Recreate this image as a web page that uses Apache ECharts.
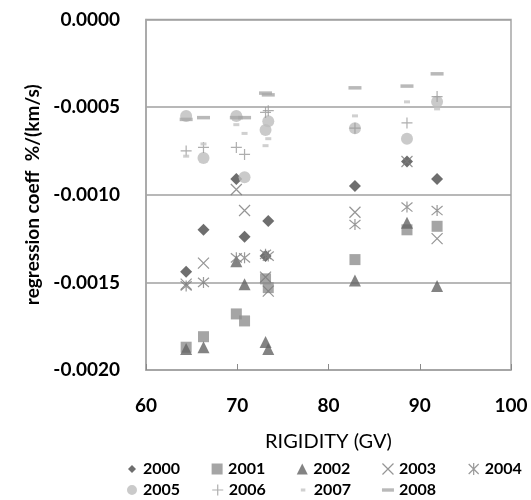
<!DOCTYPE html>
<html>
<head>
<meta charset="utf-8">
<script src="https://cdn.jsdelivr.net/npm/echarts@6/dist/echarts.min.js"></script>
<style>
html,body{margin:0;padding:0;background:#fff;}
#chart{width:531px;height:500px;}
</style>
</head>
<body>
<div id="chart"></div>
<script>
// Rigidity (GV) of each station
var rigidity = [64.4, 66.3, 69.9, 70.8, 73.1, 73.4, 82.9, 88.6, 91.9];
var years = ['2000','2001','2002','2003','2004','2005','2006','2007','2008'];
// regression coefficients per year, %/(km/s)
var y2000 = [-0.00144, -0.00120, -0.00091, -0.00124, -0.00135, -0.00115, -0.00095, -0.00081, -0.00091];
var y2001 = [-0.00187, -0.00181, -0.00168, -0.00172, -0.00148, -0.00153, -0.00137, -0.00120, -0.00118];
var y2002 = [-0.00188, -0.00187, -0.00138, -0.00151, -0.00184, -0.00188, -0.00149, -0.00116, -0.00152];
var y2003 = [-0.00151, -0.00139, -0.00097, -0.00109, -0.00147, -0.00155, -0.00110, -0.00081, -0.00125];
var y2004 = [-0.00152, -0.00150, -0.00136, -0.00136, -0.00134, -0.00135, -0.00117, -0.00107, -0.00109];
var y2005 = [-0.00055, -0.00079, -0.00055, -0.00090, -0.00063, -0.00058, -0.00062, -0.00068, -0.00047];
var y2006 = [-0.00075, -0.00073, -0.00073, -0.00077, -0.00053, -0.00052, -0.00062, -0.00059, -0.00044];
var y2007 = [-0.00078, -0.00071, -0.00060, -0.00065, -0.00072, -0.00068, -0.00055, -0.00047, -0.00051];
var y2008 = [-0.00057, -0.00056, -0.00056, -0.00056, -0.00042, -0.00043, -0.00039, -0.00038, -0.00031];
var xTicks = [60, 70, 80, 90, 100];
var yTicks = [-0.0020, -0.0015, -0.0010, -0.0005, 0.0000];

var values = [y2000, y2001, y2002, y2003, y2004, y2005, y2006, y2007, y2008];

var FONT = 'Lato';
var X_PATH = 'path://M0,0L10,10M10,0L0,10';
var AST_PATH = 'path://M0,0L10,10M10,0L0,10M5,-1L5,11';
var PLUS_PATH = 'path://M5,0L5,10M0,5L10,5';

var styles = [
  {symbol:'diamond', size:12, item:{color:'#4a4a4a'}},
  {symbol:'rect', size:11, item:{color:'#8f8f8f'}},
  {symbol:'triangle', size:12, item:{color:'#646464'}},
  {symbol:X_PATH, size:11, item:{color:'transparent', borderColor:'#7a7a7a', borderWidth:1.2}},
  {symbol:AST_PATH, size:11, item:{color:'transparent', borderColor:'#7f7f7f', borderWidth:1.2}},
  {symbol:'circle', size:12, item:{color:'#bdbdbd'}},
  {symbol:PLUS_PATH, size:11, item:{color:'transparent', borderColor:'#9a9a9a', borderWidth:1.2}},
  {symbol:'rect', size:[6,3], item:{color:'#c4c4c4'}},
  {symbol:'rect', size:[13,3.5], item:{color:'#a8a8a8'}}
];

var legendIcons = [
  {icon:'path://M0,0M12,12M6,2L10,6L6,10L2,6Z', itemStyle:{color:'#4a4a4a'}},
  {icon:'path://M0,0M12,12M0.5,0.5H11.5V11.5H0.5Z', itemStyle:{color:'#8f8f8f'}},
  {icon:'path://M0,0M12,12M6,0.5L11.5,11.5H0.5Z', itemStyle:{color:'#646464'}},
  {icon:'path://M0,0M12,12M0.5,0.5L11.5,11.5M11.5,0.5L0.5,11.5', itemStyle:{color:'transparent', borderColor:'#7a7a7a', borderWidth:1.2}},
  {icon:'path://M0,0M12,12M1,1L11,11M11,1L1,11M6,0L6,12', itemStyle:{color:'transparent', borderColor:'#7f7f7f', borderWidth:1.2}},
  {icon:'path://M0,0M12,12M6,1A5,5,0,1,1,5.99,1Z', itemStyle:{color:'#bdbdbd'}},
  {icon:'path://M0,0M12,12M6,0.5L6,11.5M0.5,6L11.5,6', itemStyle:{color:'transparent', borderColor:'#9a9a9a', borderWidth:1.2}},
  {icon:'path://M0,0M12,12M4,4.5H8.5V7.5H4Z', itemStyle:{color:'#c4c4c4'}},
  {icon:'path://M0,0M12,12M0,4.3H12V7.7H0Z', itemStyle:{color:'#a8a8a8'}}
];

var series = years.map(function(y, i){
  return {
    name: y,
    type: 'scatter',
    symbol: styles[i].symbol,
    symbolSize: styles[i].size,
    itemStyle: styles[i].item,
    data: rigidity.map(function(r, j){ return [r, values[i][j]]; }),
    silent: true
  };
});

function legendData(idx){
  return idx.map(function(i){
    return {name: years[i], icon: legendIcons[i].icon, itemStyle: legendIcons[i].itemStyle};
  });
}
var legendCommon = {
  orient:'horizontal', itemWidth:12, itemHeight:12, itemGap:31, padding:0,
  selectedMode:false,
  textStyle:{fontFamily:FONT, fontWeight:'bold', fontSize:16, color:'#000'}
};

var chart = echarts.init(document.getElementById('chart'), null, {renderer:'canvas'});
chart.setOption({
  animation:false,
  backgroundColor:'#fff',
  grid:{left:146, right:20, top:19.5, bottom:130, show:true, borderColor:'#a6a6a6', borderWidth:1.5},
  legend:[
    Object.assign({left:126, top:461, data:legendData([0,1,2,3,4])}, legendCommon),
    Object.assign({left:126, top:482, data:legendData([5,6,7,8])}, legendCommon)
  ],
  xAxis:{
    type:'value', min:xTicks[0], max:xTicks[xTicks.length-1], interval:10,
    name:'RIGIDITY (GV)', nameLocation:'middle', nameGap:62,
    nameTextStyle:{fontFamily:FONT, fontSize:20, color:'#000'},
    axisLine:{show:true, onZero:false, lineStyle:{color:'#a6a6a6', width:1.5}},
    axisTick:{show:true, inside:true, length:6, lineStyle:{color:'#8a8a8a', width:1}},
    splitLine:{show:false},
    axisLabel:{fontFamily:FONT, fontWeight:'bold', fontSize:19, color:'#000', margin:26}
  },
  yAxis:{
    type:'value', min:yTicks[0], max:yTicks[yTicks.length-1], interval:0.0005,
    name:'regression coeff  %/(km/s)', nameLocation:'middle', nameGap:104,
    nameTextStyle:{fontFamily:FONT, fontWeight:'bold', fontSize:19, color:'#000'},
    axisLine:{show:true, onZero:false, lineStyle:{color:'#a6a6a6', width:1.5}},
    axisTick:{show:false},
    splitLine:{show:true, lineStyle:{color:'#a0a0a0', width:1.5}},
    axisLabel:{fontFamily:FONT, fontWeight:'bold', fontSize:19, color:'#000', margin:26,
      formatter:function(v){ return v.toFixed(4); }}
  },
  series: series
});
</script>
</body>
</html>
